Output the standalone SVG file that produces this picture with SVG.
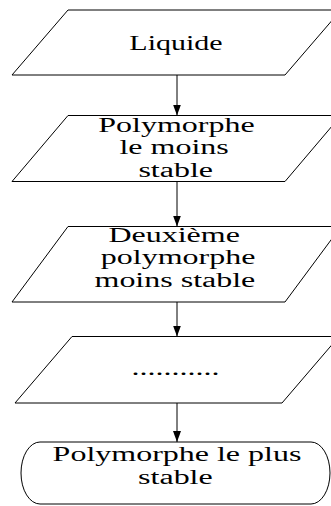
<svg xmlns="http://www.w3.org/2000/svg" width="331" height="506" viewBox="0 0 331 506">
  <style>
    .shape { fill: #ffffff; stroke: #000000; stroke-width: 1; }
    .link { stroke: #000000; stroke-width: 1; fill: none; }
    .label { font-family: "Liberation Serif", "Times New Roman", serif; font-size: 20px; fill: #000000; text-anchor: middle; }
  </style>
  <defs>
    <marker id="arrow" markerUnits="userSpaceOnUse" markerWidth="12" markerHeight="8" refX="11" refY="4" orient="auto">
      <path d="M0,0 L11,4 L0,8 Z" fill="#000000"/>
    </marker>
  </defs>

  <rect width="331" height="506" fill="#ffffff"/>

  <!-- connectors -->
  <g id="connectors">
    <line class="link" x1="177" y1="75" x2="177" y2="115.5" marker-end="url(#arrow)"/>
    <line class="link" x1="177" y1="181.5" x2="177" y2="226.5" marker-end="url(#arrow)"/>
    <line class="link" x1="177" y1="302" x2="177" y2="336.5" marker-end="url(#arrow)"/>
    <line class="link" x1="177" y1="403" x2="177" y2="442" marker-end="url(#arrow)"/>
  </g>

  <g id="liquide">
    <polygon class="shape" points="68,10 341,10 285,75 12,75"/>
    <text class="label" transform="translate(176,49.5) scale(1.5,1)" font-size="21">Liquide</text>
  </g>

  <g id="moins-stable">
    <polygon class="shape" points="68,115.5 341,115.5 285,181.5 12,181.5"/>
    <g transform="translate(176.5,0) scale(1.6,1)">
      <text class="label" x="0" y="132">Polymorphe</text>
      <text class="label" x="-1.5" y="154.5">le moins</text>
      <text class="label" x="-0.5" y="177">stable</text>
    </g>
  </g>

  <g id="deuxieme">
    <polygon class="shape" points="68,226.5 341,226.5 285,302 12,302"/>
    <g transform="translate(176.5,0) scale(1.6,1)">
      <text class="label" x="-1.5" y="242">Deuxième</text>
      <text class="label" x="1" y="264.5">polymorphe</text>
      <text class="label" x="-1" y="287">moins stable</text>
    </g>
  </g>

  <g id="intermediaires">
    <polygon class="shape" points="72,336.5 339,336.5 282,403 15,403"/>
    <text class="label" transform="translate(175.5,375) scale(1.6,1)">...........</text>
  </g>

  <g id="plus-stable">
    <path class="shape" d="M40,442 L311,442 A19,31 0 0 1 311,504 L40,504 A19,31 0 0 1 40,442 Z"/>
    <g transform="translate(177,0) scale(1.6,1)">
      <text class="label" x="0" y="461.5">Polymorphe le plus</text>
      <text class="label" x="-1" y="484">stable</text>
    </g>
  </g>
</svg>
